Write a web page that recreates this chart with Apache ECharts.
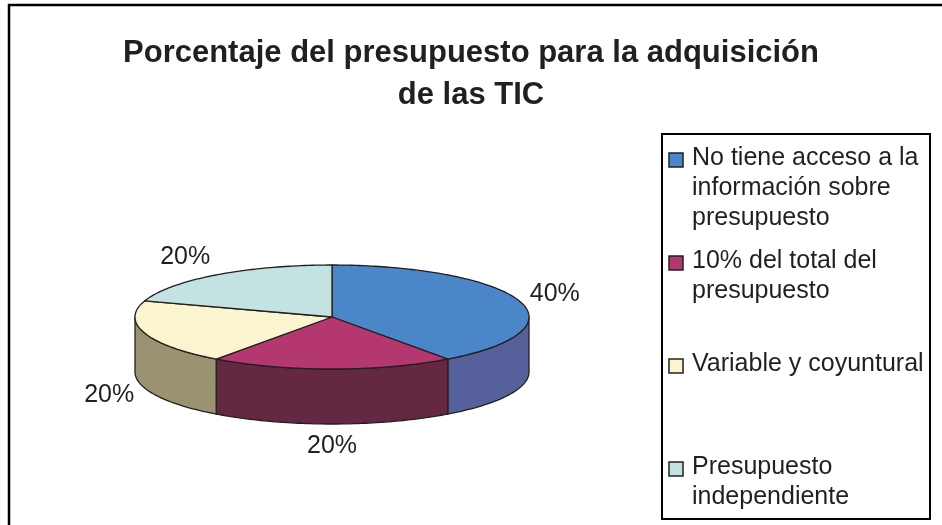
<!DOCTYPE html>
<html>
<head>
<meta charset="utf-8">
<script src="https://cdn.jsdelivr.net/npm/echarts@6/dist/echarts.min.js"></script>
<style>
  html, body { margin: 0; padding: 0; background: #fff; }
  #chart { width: 942px; height: 525px; }
</style>
</head>
<body>
<div id="chart"></div>
<script>
// data
const categories = [
  'No tiene acceso a la\ninformación sobre\npresupuesto',
  '10% del total del\npresupuesto',
  'Variable y coyuntural',
  'Presupuesto\nindependiente'
];
const values = [40, 20, 20, 20];

// styles
const topColors = ['#4a86c8', '#b5376f', '#faf4cf', '#c2e3e1'];
const sideColors = ['#56609b', '#652843', '#9b9271', '#7f9c9a'];
const FONT = '"Liberation Sans", Arial, sans-serif';
const INK = '#231f20';

// 3d pie geometry (pixels)
const CX = 332, CY = 317, RX = 197, RY = 52, DEPTH = 55, GAP = 12;
const total = values.reduce((a, b) => a + b, 0);

function pt(t, dy) {
  return [CX + RX * Math.sin(t), CY - RY * Math.cos(t) + (dy || 0)];
}
function arc(a, b, dy) {
  const n = Math.max(2, Math.ceil((b - a) / 0.02));
  const out = [];
  for (let k = 0; k <= n; k++) out.push(pt(a + (b - a) * k / n, dy));
  return out;
}

function renderSlice(params, api) {
  const i = params.dataIndex;
  let before = 0;
  for (let k = 0; k < i; k++) before += values[k];
  const v = api.value(0);
  const a = before / total * Math.PI * 2;
  const b = (before + v) / total * Math.PI * 2;
  const children = [];

  // outer wall, only the front half is visible
  const wa = Math.max(a, Math.PI / 2), wb = Math.min(b, Math.PI * 1.5);
  if (wb > wa) {
    const up = arc(wa, wb, 0);
    const down = arc(wa, wb, DEPTH).reverse();
    children.push({
      type: 'polygon', z2: 1,
      shape: { points: up.concat(down) },
      style: { fill: sideColors[i], stroke: INK, lineWidth: 1.3, lineJoin: 'round' }
    });
  }

  // top face
  children.push({
    type: 'polygon', z2: 5,
    shape: { points: [[CX, CY]].concat(arc(a, b, 0)) },
    style: { fill: topColors[i], stroke: INK, lineWidth: 1.3, lineJoin: 'round' }
  });

  // percentage label, just outside the rim
  const m = (a + b) / 2;
  const s = Math.sin(m), c = Math.cos(m);
  const ax = CX + (RX + GAP) * s;
  const ay = CY - (RY + GAP) * c + (c < 0 ? DEPTH : 0);
  const lx = ax + (Math.abs(s) > 0.2 ? 24 * Math.sign(s) : 0);
  const ly = ay - 10 * c;
  children.push({
    type: 'text', z2: 10,
    style: {
      text: Math.round(v / total * 100) + '%',
      x: lx, y: ly, align: 'center', verticalAlign: 'middle',
      font: '25px ' + FONT, fill: INK
    }
  });

  return { type: 'group', children };
}

// legend drawn as graphic, one block per category
const legendItems = [];
categories.forEach((name, i) => {
  const top = 143 + i * 103;
  legendItems.push({
    type: 'rect',
    shape: { x: 669, y: top + 10, width: 14, height: 14 },
    style: { fill: topColors[i], stroke: INK, lineWidth: 1.5 }
  });
  legendItems.push({
    type: 'text',
    style: {
      text: name, x: 692, y: top,
      font: '25px ' + FONT, fill: INK, lineHeight: 30,
      verticalAlign: 'top'
    }
  });
});

const chart = echarts.init(document.getElementById('chart'));
chart.setOption({
  animation: false,
  title: {
    text: 'Porcentaje del presupuesto para la adquisición\nde las TIC',
    left: 'center',
    top: 27,
    textStyle: {
      fontFamily: FONT, fontWeight: 'bold', fontSize: 31,
      lineHeight: 42, color: INK
    }
  },
  graphic: [
    {
      type: 'rect',
      shape: { x: 9, y: 5, width: 1000, height: 1000 },
      style: { fill: 'none', stroke: '#000', lineWidth: 2.5 }
    },
    {
      type: 'rect',
      shape: { x: 662, y: 134, width: 268, height: 385 },
      style: { fill: '#fff', stroke: '#000', lineWidth: 2 }
    }
  ].concat(legendItems),
  series: [{
    type: 'custom',
    coordinateSystem: 'none',
    renderItem: renderSlice,
    data: values
  }]
});
</script>
</body>
</html>
